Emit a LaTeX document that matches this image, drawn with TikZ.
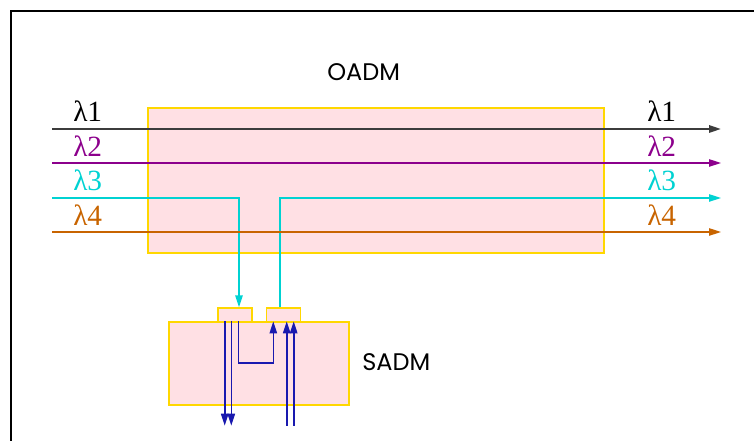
\documentclass[tikz,border=0pt]{standalone}
\usepackage{fontspec}
\setmainfont{Poppins}
\newfontfamily\lamfont{Liberation Serif}
\usetikzlibrary{arrows.meta}
\definecolor{boxfill}{RGB}{255,224,228}
\definecolor{boxline}{RGB}{255,215,0}
\definecolor{lamone}{RGB}{60,60,60}
\definecolor{lamtwo}{RGB}{140,0,140}
\definecolor{lamthree}{RGB}{0,210,210}
\definecolor{lamfour}{RGB}{200,100,0}
\definecolor{tribblue}{RGB}{25,25,175}
\tikzset{
  box/.style={draw=boxline,fill=boxfill,line width=1pt,inner sep=0pt},
  lam/.style={font=\lamfont\fontsize{22}{22}\selectfont,inner sep=0pt,anchor=base west},
  title/.style={font=\fontsize{18}{18}\selectfont,inner sep=0pt,anchor=base west},
  chan/.style={line width=1.2pt,-{Triangle[length=9pt,width=5.5pt]}},
  trib/.style={draw=tribblue,line width=1.2pt,-{Triangle[length=9pt,width=5.5pt]}}
}
\begin{document}
\begin{tikzpicture}[x=0.75pt,y=-0.75pt]
  \useasboundingbox (0,0) rectangle (754,441);
  % frame
  \draw[line width=0.8pt] (11,441) -- (11,11) -- (754,11);
  % boxes
  \node[box,minimum width=342pt,minimum height=108.75pt] (oadm) at (376,180.5) {};
  \node[box,minimum width=135pt,minimum height=62.25pt] (sadm) at (259,363.5) {};
  \node[box,minimum width=25.5pt,minimum height=10.5pt] (drop) at (235,315) {};
  \node[box,minimum width=25.5pt,minimum height=10.5pt] (add) at (283.5,315) {};
  \node[title] (oadmlabel) at (327,81) {OADM};
  \node[title] (sadmlabel) at (362,371) {SADM};
  % wavelengths
  \coordinate (in1) at (52,129);  \coordinate (out1) at (721,129);
  \coordinate (in2) at (52,163);  \coordinate (out2) at (721,163);
  \coordinate (in3) at (52,198);  \coordinate (out3) at (721,198);
  \coordinate (in4) at (52,232);  \coordinate (out4) at (721,232);
  \draw[chan,draw=lamone,line width=1.6pt] (in1) -- (out1);
  \draw[chan,draw=lamtwo] (in2) -- (out2);
  \draw[chan,draw=lamthree] (in3) -| ([xshift=3pt]drop.north);
  \draw[chan,draw=lamthree] ([xshift=-2.6pt]add.north) |- (out3);
  \draw[chan,draw=lamfour] (in4) -- (out4);
  \node[lam,text=black] (l1a) at (73,122) {λ1};
  \node[lam,text=lamtwo] (l2a) at (73,156.5) {λ2};
  \node[lam,text=lamthree] (l3a) at (73,191) {λ3};
  \node[lam,text=lamfour] (l4a) at (73,225.5) {λ4};
  \node[lam,text=black] (l1b) at (647,122) {λ1};
  \node[lam,text=lamtwo] (l2b) at (647,156.5) {λ2};
  \node[lam,text=lamthree] (l3b) at (647,191) {λ3};
  \node[lam,text=lamfour] (l4b) at (647,225.5) {λ4};
  % tributaries
  \coordinate (d1) at (224.7,425.7);
  \coordinate (d2) at (231.3,425.7);
  \coordinate (u1) at (286.7,425.7);
  \coordinate (u2) at (293.7,425.7);
  \coordinate (loopa) at (238.3,363);
  \coordinate (loopb) at (273.3,363);
  \draw[trib] (d1 |- sadm.north) -- (d1);
  \draw[trib] (d2 |- sadm.north) -- (d2);
  \draw[trib] (loopa |- sadm.north) -- (loopa) -- (loopb) -- (loopb |- sadm.north);
  \draw[trib] (u1) -- (u1 |- sadm.north);
  \draw[trib] (u2) -- (u2 |- sadm.north);
\end{tikzpicture}
\end{document}
